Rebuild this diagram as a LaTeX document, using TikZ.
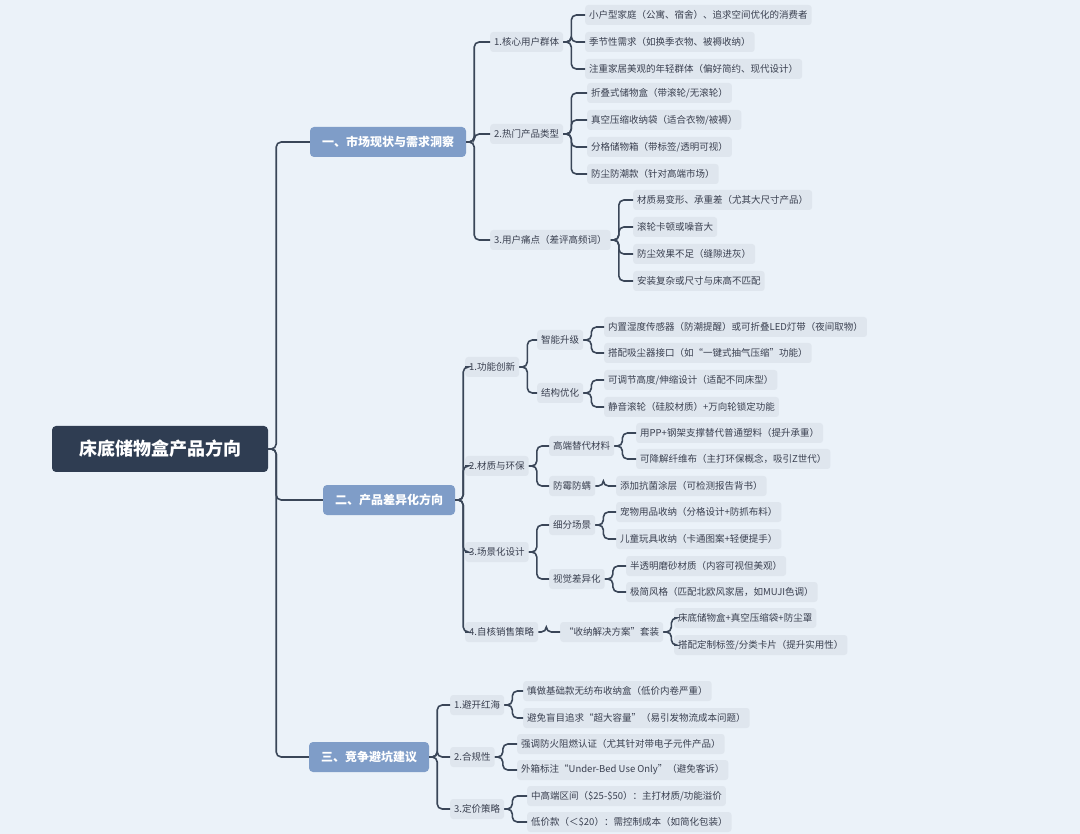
\documentclass[tikz,border=0pt]{standalone}
\usepackage{fontspec}
\setmainfont{Noto Sans CJK SC}
\usetikzlibrary{positioning}
\definecolor{bgcol}{HTML}{EBF2F9}
\definecolor{leafcol}{HTML}{DFE6EE}
\definecolor{linecol}{HTML}{3A4658}
\definecolor{rootcol}{HTML}{2F3D52}
\definecolor{maincol}{HTML}{7F9DC8}
\definecolor{txtcol}{HTML}{3A4050}
\tikzset{
  leaf/.style={anchor=west, fill=leafcol, rounded corners=3pt, inner xsep=4pt, minimum height=20pt, text=txtcol, font=\fontsize{9.5}{10}\selectfont},
  branch/.style={fill=maincol, rounded corners=4pt, minimum height=30pt, inner xsep=12pt, text=white, font=\fontsize{12}{12}\selectfont\bfseries},
  rootbox/.style={fill=rootcol, rounded corners=4pt, minimum width=216pt, minimum height=46pt, text=white, font=\fontsize{18}{18}\selectfont\bfseries},
  link/.style={draw=linecol, line width=1.6pt, rounded corners=5pt}
}
\begin{document}
\begin{tikzpicture}[x=1pt,y=-1pt]
\fill[bgcol] (0,0) rectangle (1080,834);
\useasboundingbox (0,0) rectangle (1080,834);

\node[rootbox] (root) at (160,449) {床底储物盒产品方向};
\node[branch] (a) at (388,142) {一、市场现状与需求洞察};
\node[branch] (b) at (389,500) {二、产品差异化方向};
\node[branch] (c) at (369,757) {三、竞争避坑建议};

% market
\node[leaf] (a1) at (490,42) {1.核心用户群体};
\node[leaf] (a2) at (490,134) {2.热门产品类型};
\node[leaf] (a3) at (490,240) {3.用户痛点（差评高频词）};
\node[leaf] (a11) at (585,15) {小户型家庭（公寓、宿舍）、追求空间优化的消费者};
\node[leaf] (a12) at (585,42) {季节性需求（如换季衣物、被褥收纳）};
\node[leaf] (a13) at (585,69) {注重家居美观的年轻群体（偏好简约、现代设计）};
\node[leaf] (a21) at (587,93) {折叠式储物盒（带滚轮/无滚轮）};
\node[leaf] (a22) at (587,120) {真空压缩收纳袋（适合衣物/被褥）};
\node[leaf] (a23) at (587,147) {分格储物箱（带标签/透明可视）};
\node[leaf] (a24) at (587,174) {防尘防潮款（针对高端市场）};
\node[leaf] (a31) at (633,200) {材质易变形、承重差（尤其大尺寸产品）};
\node[leaf] (a32) at (633,227) {滚轮卡顿或噪音大};
\node[leaf] (a33) at (633,254) {防尘效果不足（缝隙进灰）};
\node[leaf] (a34) at (633,281) {安装复杂或尺寸与床高不匹配};

% product
\node[leaf] (b1) at (465,367) {1.功能创新};
\node[leaf] (b2) at (465,466) {2.材质与环保};
\node[leaf] (b3) at (465,552) {3.场景化设计};
\node[leaf] (b4) at (465,632) {4.自核销售策略};
\node[leaf] (b11) at (537,340) {智能升级};
\node[leaf] (b12) at (537,393) {结构优化};
\node[leaf] (b111) at (604,327) {内置湿度传感器（防潮提醒）或可折叠LED灯带（夜间取物）};
\node[leaf] (b112) at (604,353) {搭配吸尘器接口（如“一键式抽气压缩”功能）};
\node[leaf] (b121) at (604,380) {可调节高度/伸缩设计（适配不同床型）};
\node[leaf] (b122) at (604,407) {静音滚轮（硅胶材质）+万向轮锁定功能};
\node[leaf] (b21) at (549,446) {高端替代材料};
\node[leaf] (b22) at (549,486) {防霉防螨};
\node[leaf] (b211) at (636,433) {用PP+钢架支撑替代普通塑料（提升承重）};
\node[leaf] (b212) at (636,459) {可降解纤维布（主打环保概念，吸引Z世代）};
\node[leaf] (b221) at (616,486) {添加抗菌涂层（可检测报告背书）};
\node[leaf] (b31) at (549,525) {细分场景};
\node[leaf] (b32) at (549,579) {视觉差异化};
\node[leaf] (b311) at (616,512) {宠物用品收纳（分格设计+防抓布料）};
\node[leaf] (b312) at (616,539) {儿童玩具收纳（卡通图案+轻便提手）};
\node[leaf] (b321) at (626,566) {半透明磨砂材质（内容可视但美观）};
\node[leaf] (b322) at (626,592) {极简风格（匹配北欧风家居，如MUJI色调）};
\node[leaf] (b41) at (560,632) {“收纳解决方案”套装};
\node[leaf] (b411) at (674,618) {床底储物盒+真空压缩袋+防尘罩};
\node[leaf] (b412) at (674,645) {搭配定制标签/分类卡片（提升实用性）};

% competition
\node[leaf] (c1) at (450,705) {1.避开红海};
\node[leaf] (c2) at (450,757) {2.合规性};
\node[leaf] (c3) at (450,809) {3.定价策略};
\node[leaf] (c11) at (523,691) {慎做基础款无纺布收纳盒（低价内卷严重）};
\node[leaf] (c12) at (523,718) {避免盲目追求“超大容量”（易引发物流成本问题）};
\node[leaf] (c21) at (517,744) {强调防火阻燃认证（尤其针对带电子元件产品）};
\node[leaf] (c22) at (517,770) {外箱标注“Under-Bed Use Only”（避免客诉）};
\node[leaf] (c31) at (527,796) {中高端区间（\$25-\$50）：主打材质/功能溢价};
\node[leaf] (c32) at (527,822) {低价款（＜\$20）：需控制成本（如简化包装）};

% connectors
\foreach \p/\c in {root/a,root/b,root/c,a/a1,a/a2,a/a3,a1/a11,a1/a12,a1/a13,
  a2/a21,a2/a22,a2/a23,a2/a24,a3/a31,a3/a32,a3/a33,a3/a34,
  b/b1,b/b2,b/b3,b/b4,b1/b11,b1/b12,b11/b111,b11/b112,b12/b121,b12/b122,
  b2/b21,b2/b22,b21/b211,b21/b212,b22/b221,b3/b31,b3/b32,b31/b311,b31/b312,
  b32/b321,b32/b322,b4/b41,b41/b411,b41/b412,
  c/c1,c/c2,c/c3,c1/c11,c1/c12,c2/c21,c2/c22,c3/c31,c3/c32}
  \draw[link] (\p.east) -- ++(8,0) |- (\c.west);
\end{tikzpicture}
\end{document}
